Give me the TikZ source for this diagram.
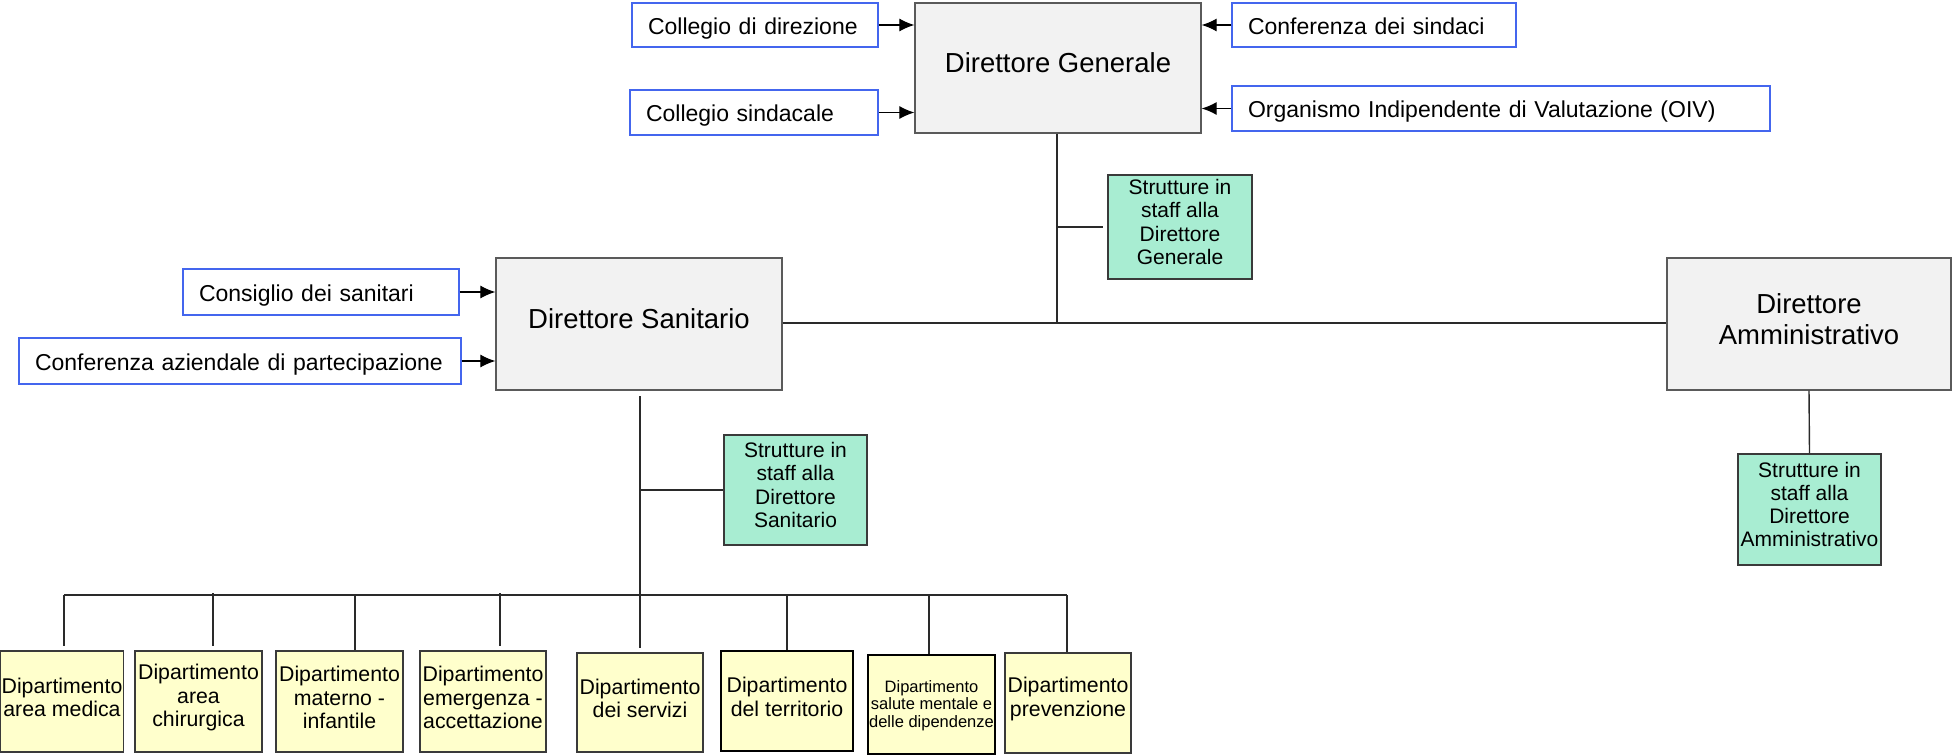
\documentclass[tikz,border=0pt]{standalone}
\usepackage{fontspec}
\setmainfont{Liberation Sans}
\usetikzlibrary{arrows.meta}
\definecolor{bossfill}{HTML}{F2F2F2}
\definecolor{bordergray}{HTML}{5A5A5A}
\definecolor{extblue}{HTML}{4466EE}
\definecolor{stafffill}{HTML}{A8EDD2}
\definecolor{deptfill}{HTML}{FFFFCC}
\definecolor{darkborder}{HTML}{3A3A3A}
\definecolor{linegray}{HTML}{2A2A2A}
\tikzset{
 boss/.style={draw=bordergray, fill=bossfill, line width=1.3pt, inner sep=0pt},
 bosst/.style={inner sep=0pt, align=center, yshift=5pt, font=\fontsize{27.5}{31}\selectfont},
 ext/.style={draw=extblue, fill=white, line width=1.3pt, inner xsep=16pt, inner ysep=0pt, align=left, text height=19pt, text depth=1pt, font=\fontsize{23}{27}\selectfont},
 staff/.style={draw=darkborder, fill=stafffill, line width=1.3pt, inner sep=0pt},
 stafft/.style={inner sep=0pt, align=center, yshift=5pt, font=\fontsize{21}{23.3}\selectfont},
 dept/.style={draw=darkborder, fill=deptfill, line width=1.3pt, inner sep=0pt},
 deptt/.style={inner sep=0pt, align=center, yshift=4pt, font=\fontsize{21.3}{23.7}\selectfont},
 deptst/.style={inner sep=0pt, align=center, yshift=-1pt, font=\fontsize{16.5}{17.5}\selectfont},
 thickb/.style={draw=black, line width=2.4pt},
 conn/.style={line width=1.4pt, draw=linegray},
 arr/.style={line width=1.2pt, draw=black, -{Latex[length=15pt,width=13pt]}},
}
\begin{document}
\begin{tikzpicture}[x=1pt,y=-1pt]
\useasboundingbox (0,0) rectangle (1955,755);
% top level
\node[boss, minimum width=286pt, minimum height=130pt, label={[bosst]center:Direttore Generale}] (dg) at (1058,68) {};
\node[ext, text width=214pt, minimum height=44pt] (cd) at (755,25) {Collegio di direzione};
\node[ext, text width=216pt, minimum height=45pt] (cs) at (754,112.5) {Collegio sindacale};
\node[ext, text width=252pt, minimum height=44pt] (cf) at (1374,25) {Conferenza dei sindaci};
\node[ext, text width=506pt, minimum height=45pt] (oiv) at (1501,108.5) {Organismo Indipendente di Valutazione (OIV)};
\draw[arr] (cd.east) -- (cd.east -| dg.west);
\draw[arr] (cs.east) -- (cs.east -| dg.west);
\draw[arr] (cf.west) -- (cf.west -| dg.east);
\draw[arr] (oiv.west) -- (oiv.west -| dg.east);
% second level
\node[boss, minimum width=286pt, minimum height=132pt, label={[bosst]center:Direttore Sanitario}] (ds) at (639,324) {};
\node[boss, minimum width=284pt, minimum height=132pt, label={[bosst]center:{Direttore\\Amministrativo}}] (da) at (1809,324) {};
\node[staff, minimum width=144pt, minimum height=104pt, label={[stafft]center:{Strutture in\\staff alla\\Direttore\\Generale}}] (sdg) at (1180,227) {};
\node[staff, minimum width=143pt, minimum height=110pt, label={[stafft]center:{Strutture in\\staff alla\\Direttore\\Sanitario}}] (sds) at (795.5,490) {};
\node[staff, minimum width=143pt, minimum height=111pt, label={[stafft]center:{Strutture in\\staff alla\\Direttore\\Amministrativo}}] (sda) at (1809.5,509.5) {};
\node[ext, text width=244pt, minimum height=46pt] (cons) at (321,292) {Consiglio dei sanitari};
\node[ext, text width=410pt, minimum height=46pt] (caz) at (240,361) {Conferenza aziendale di partecipazione};
\draw[arr] (cons.east) -- (cons.east -| ds.west);
\draw[arr] (caz.east) -- (caz.east -| ds.west);
% connectors top
\coordinate (j) at (1057,323);
\draw[conn] (dg.south -| j) -- (j);
\draw[conn] (ds.east |- j) -- (da.west |- j);
\draw[conn] (j |- sdg.west) -- ([xshift=-4pt]sdg.west);
\draw[conn] (da.south) -- (sda.north);
% departments
\node[dept, minimum width=123pt, minimum height=101pt, label={[deptt]center:{Dipartimento\\area medica}}] (d1) at (62,701.5) {};
\node[dept, minimum width=127pt, minimum height=101pt, label={[deptt]center:{Dipartimento\\area\\chirurgica}}] (d2) at (198.5,701.5) {};
\node[dept, minimum width=127pt, minimum height=101pt, label={[deptt]center:{Dipartimento\\materno -\\infantile}}] (d3) at (339.5,701.5) {};
\node[dept, minimum width=126pt, minimum height=101pt, label={[deptt]center:{Dipartimento\\emergenza -\\accettazione}}] (d4) at (483,701.5) {};
\node[dept, minimum width=126pt, minimum height=99pt, label={[deptt]center:{Dipartimento\\dei servizi}}] (d5) at (640,702.5) {};
\node[dept, thickb, minimum width=132pt, minimum height=100pt, label={[deptt]center:{Dipartimento\\del territorio}}] (d6) at (787,701) {};
\node[dept, thickb, minimum width=127pt, minimum height=99pt, label={[deptst]center:{Dipartimento\\salute mentale e\\delle dipendenze}}] (d7) at (931.5,704.5) {};
\node[dept, minimum width=126pt, minimum height=100pt, label={[deptt]center:{Dipartimento\\prevenzione}}] (d8) at (1068,703) {};
% trunk and bus
\coordinate (t0) at (640,396);
\coordinate (b1) at (64,595);
\coordinate (b2) at (213,595);
\coordinate (b3) at (355,595);
\coordinate (b4) at (500,595);
\coordinate (b6) at (787,595);
\coordinate (b7) at (929,595);
\coordinate (b8) at (1067,595);
\draw[conn] (t0) -- ([yshift=4pt]d5.north);
\draw[conn] (t0 |- sds.west) -- (sds.west);
\draw[conn] (b1) -- (b8);
\draw[conn, shorten >=4pt] (b1) -- (b1 |- d1.north);
\draw[conn, shorten >=4pt] ([yshift=2pt]b2) -- (b2 |- d2.north);
\draw[conn] (b3) -- (b3 |- d3.north);
\draw[conn, shorten >=4pt] ([yshift=2pt]b4) -- (b4 |- d4.north);
\draw[conn] (b6) -- (b6 |- d6.north);
\draw[conn] (b7) -- (b7 |- d7.north);
\draw[conn] (b8) -- (b8 |- d8.north);
\end{tikzpicture}
\end{document}
